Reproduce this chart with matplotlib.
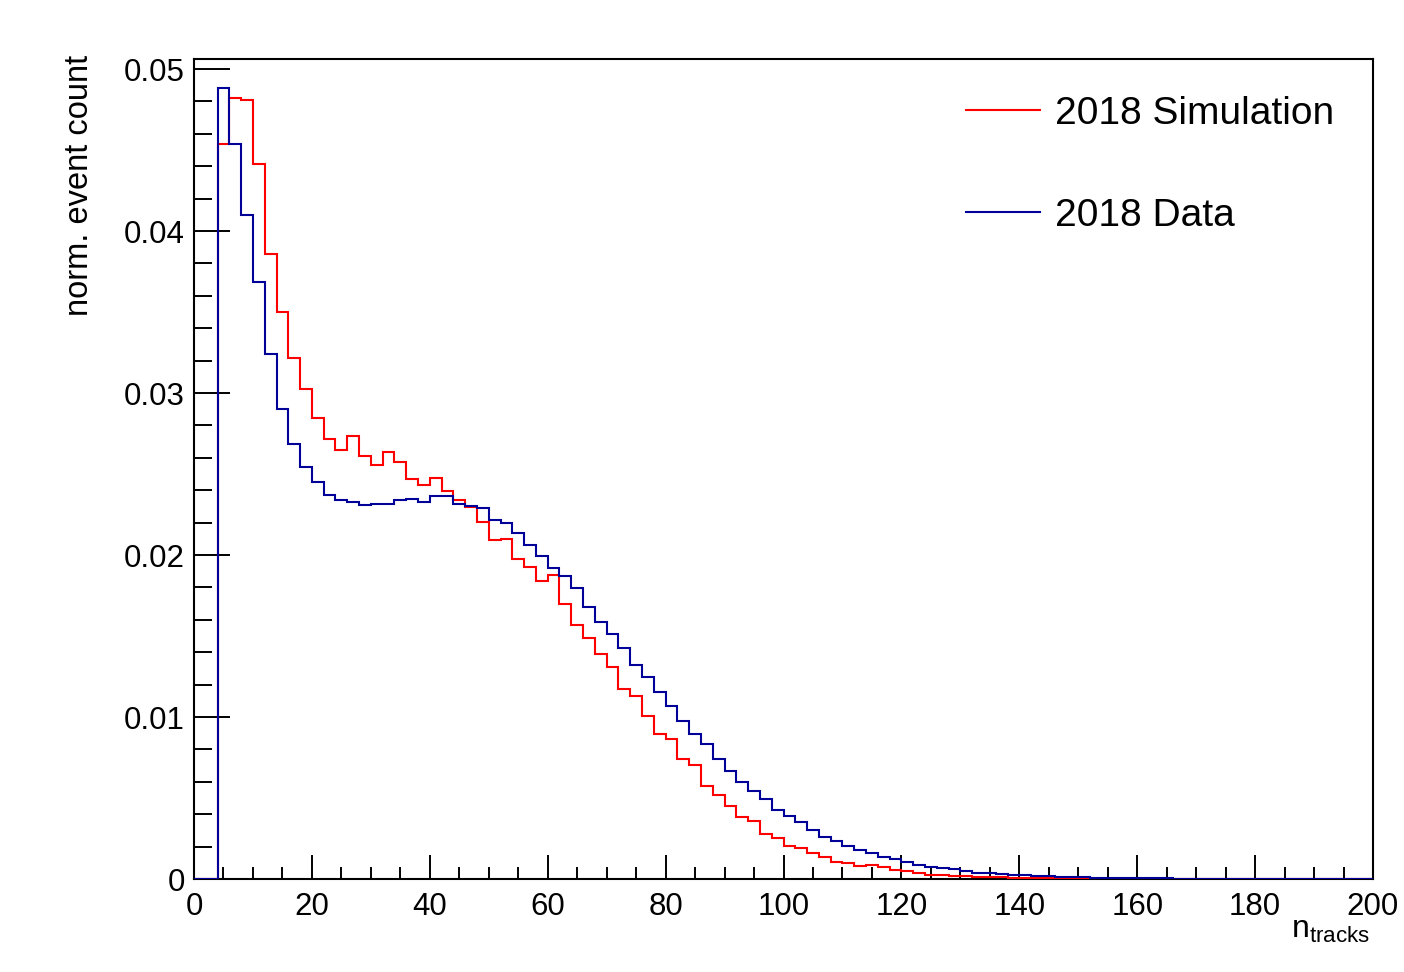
import numpy as np
import matplotlib
matplotlib.use("Agg")
import matplotlib.pyplot as plt
from matplotlib.ticker import MultipleLocator, FuncFormatter

plt.rcParams['font.family'] = ['Liberation Sans', 'DejaVu Sans']
plt.rcParams['mathtext.fontset'] = 'custom'
plt.rcParams['mathtext.rm'] = 'Liberation Sans'
plt.rcParams['mathtext.it'] = 'Liberation Sans:italic'

# ---- data (bin width 2, from 0 to 200) ----
bin_edges = np.arange(0, 202, 2)

sim_2018 = [
    0.0, 0.0,
    0.04535, 0.04823, 0.04809, 0.04414, 0.03856, 0.03502, 0.03219, 0.03027,
    0.02844, 0.02714, 0.02648, 0.02735, 0.02611, 0.02554, 0.02636, 0.02572,
    0.02471, 0.02434, 0.02475, 0.02396, 0.02340, 0.02296, 0.02203, 0.02090,
    0.02097, 0.01975, 0.01928, 0.01842, 0.01877, 0.01699, 0.01565, 0.01487,
    0.01390, 0.01311, 0.01175, 0.01132, 0.01008, 0.00895, 0.00862, 0.00741,
    0.00702, 0.00572, 0.00516, 0.00448, 0.00381, 0.00360, 0.00278, 0.00255,
    0.00206, 0.00193, 0.00160, 0.00136, 0.00107, 0.00097, 0.00080, 0.00086,
    0.00072, 0.00054, 0.00051, 0.00035, 0.00025, 0.00023, 0.00021, 0.00019,
    0.00014, 0.00012, 0.00010, 0.00009, 0.00008, 0.00007, 0.00006, 0.00005,
    0.00004, 0.00004, 0.00003, 0.00003, 0.00002, 0.00002, 0.00002, 0.00001,
    0.00001, 0.00001, 0.00001, 0.00001, 0.00001, 0.0, 0.0, 0.0,
    0.0, 0.0, 0.0, 0.0, 0.0, 0.0, 0.0, 0.0,
    0.0, 0.0,
]

data_2018 = [
    0.0, 0.0,
    0.04881, 0.04537, 0.04097, 0.03687, 0.03239, 0.02899, 0.02687, 0.02545,
    0.02453, 0.02368, 0.02341, 0.02327, 0.02309, 0.02315, 0.02317, 0.02337,
    0.02348, 0.02329, 0.02362, 0.02366, 0.02317, 0.02302, 0.02290, 0.02218,
    0.02199, 0.02138, 0.02060, 0.01994, 0.01922, 0.01869, 0.01794, 0.01681,
    0.01584, 0.01512, 0.01426, 0.01323, 0.01245, 0.01152, 0.01068, 0.00977,
    0.00895, 0.00832, 0.00740, 0.00667, 0.00598, 0.00545, 0.00491, 0.00429,
    0.00387, 0.00354, 0.00304, 0.00257, 0.00233, 0.00202, 0.00179, 0.00160,
    0.00136, 0.00121, 0.00103, 0.00088, 0.00076, 0.00070, 0.00062, 0.00051,
    0.00039, 0.00035, 0.00030, 0.00026, 0.00022, 0.00019, 0.00016, 0.00014,
    0.00012, 0.00010, 0.00009, 0.00008, 0.00007, 0.00006, 0.00005, 0.00004,
    0.00004, 0.00003, 0.00003, 0.00003, 0.00002, 0.00002, 0.00002, 0.00002,
    0.00001, 0.00001, 0.00001, 0.00001, 0.00001, 0.00001, 0.00001, 0.00001,
    0.00001, 0.00001,
]

labels = ["2018 Simulation", "2018 Data"]
colors = ["#ff0000", "#000099"]

W, H = 1404, 972
fig = plt.figure(figsize=(W / 100, H / 100), dpi=100)
ax = fig.add_axes([194 / W, (H - 879) / H, (1373 - 194) / W, (879 - 59) / H])

ax.stairs(sim_2018, bin_edges, color=colors[0], lw=1.5, label=labels[0], zorder=3)
ax.stairs(data_2018, bin_edges, color=colors[1], lw=1.5, label=labels[1], zorder=4)

ax.set_xlim(0, 200)
ax.set_ylim(0, 0.05062)

ax.xaxis.set_major_locator(MultipleLocator(20))
ax.xaxis.set_minor_locator(MultipleLocator(5))
ax.yaxis.set_major_locator(MultipleLocator(0.01))
ax.yaxis.set_minor_locator(MultipleLocator(0.002))
ax.yaxis.set_major_formatter(FuncFormatter(lambda v, p: "0" if abs(v) < 1e-9 else f"{v:.2f}"))
ax.xaxis.set_major_formatter(FuncFormatter(lambda v, p: f"{v:.0f}"))

ax.tick_params(axis='both', which='both', direction='in', top=False, right=False,
               width=1.4, labelsize=22.5, colors='black')
ax.tick_params(axis='y', which='major', length=26, pad=6.5)
ax.tick_params(axis='y', which='minor', length=13)
ax.tick_params(axis='x', which='major', length=17, pad=9)
ax.tick_params(axis='x', which='minor', length=8.6)
for s in ax.spines.values():
    s.set_linewidth(1.5)

fig.text(1370 / W, (H - 938) / H, r"n$_{\mathrm{tracks}}$", fontsize=23,
         ha='right', va='baseline')
fig.text(80 / W, (H - 55) / H, "norm. event count", fontsize=23.5,
         rotation=90, ha='center', va='top')

leg = ax.legend(loc='upper left', bbox_to_anchor=(966 / W, (H - 96) / H),
                bbox_transform=fig.transFigure, frameon=False, fontsize=28,
                handlelength=1.9, handletextpad=0.4, labelspacing=1.70,
                borderpad=0, borderaxespad=0)

fig.savefig("out.png", dpi=100)
